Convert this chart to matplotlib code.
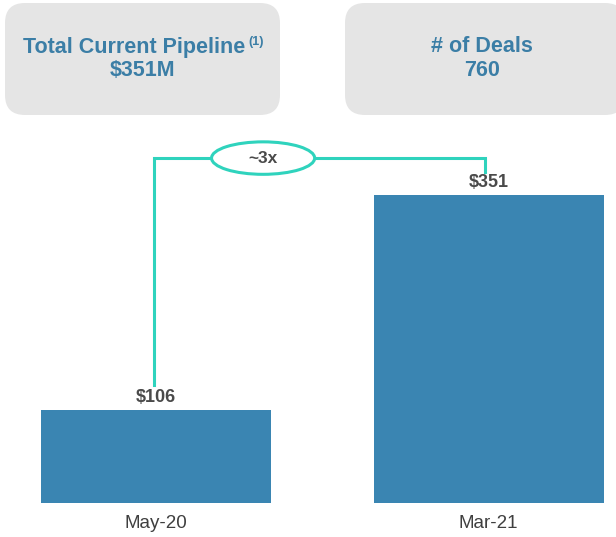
import matplotlib.pyplot as plt
from matplotlib.patches import FancyBboxPatch, Ellipse

plt.rcParams['font.family'] = ['Liberation Sans', 'DejaVu Sans']

# data
categories = ['May-20', 'Mar-21']
pipeline = [106, 351]
value_labels = ['$106', '$351']
growth_label = '~3x'
box_titles = ['Total Current Pipeline', '# of Deals']
box_values = ['$351M', '760']

BAR_COLOR = '#3a85b2'
TEAL = '#2fd3bd'
BOX_COLOR = '#e5e5e5'
BOX_TEXT = '#3b7ea6'
GREY_TEXT = '#3f3f3f'

W, H = 616, 537
fig = plt.figure(figsize=(W / 100, H / 100), dpi=100)
fig.patch.set_facecolor('white')


def fx(px):
    return px / W


def fy(py):
    return 1 - py / H


# header boxes (pixel layout)
for x0, x1 in [(5, 280), (345, 625)]:
    box = FancyBboxPatch((fx(x0 + 20), fy(115 - 20)), fx(x1 - x0 - 40), (112 - 40) / H,
                         boxstyle='round,pad=0,rounding_size=0.037',
                         transform=fig.transFigure, facecolor=BOX_COLOR,
                         edgecolor='none', mutation_aspect=W / H)
    box.set_boxstyle('round', pad=20 / W, rounding_size=20 / W)
    fig.patches.append(box)

fig.text(fx(134), fy(47), box_titles[0], ha='center', va='center',
         fontsize=15.5, fontweight='bold', color=BOX_TEXT)
fig.text(fx(248), fy(42), '(1)', ha='left', va='center',
         fontsize=9, fontweight='bold', color=BOX_TEXT)
fig.text(fx(143), fy(70), box_values[0], ha='center', va='center',
         fontsize=15.5, fontweight='bold', color=BOX_TEXT)
fig.text(fx(482), fy(47), box_titles[1], ha='center', va='center',
         fontsize=15.5, fontweight='bold', color=BOX_TEXT)
fig.text(fx(482), fy(70), box_values[1], ha='center', va='center',
         fontsize=15.5, fontweight='bold', color=BOX_TEXT)

# bar axes
ax = fig.add_axes([0, fy(503), 1, (503 - 130) / H])
x = [0, 1]
ax.bar(x, pipeline, width=0.692, color=BAR_COLOR)
ax.set_xlim(-0.469, 1.383)
ax.set_ylim(0, 425)
ax.axis('off')

for xi, v, lab in zip(x, pipeline, value_labels):
    ax.text(xi, v + 4, lab, ha='center', va='bottom', fontsize=13,
            fontweight='bold', color='#4a4a4a')

for xi, cat in zip(x, categories):
    fig.text(fx(156 + xi * 332.5), fy(524), cat, ha='center', va='center',
             fontsize=13.5, color=GREY_TEXT)

# growth bracket, split around the ellipse
top = pipeline[1] + 42
ex, ew = 0.322, 0.31
ax.plot([-0.006, -0.006, ex - ew / 2], [pipeline[0] + 28, top, top],
        color=TEAL, lw=2.2, solid_joinstyle='miter', zorder=3)
ax.plot([ex + ew / 2, 0.99, 0.99], [top, top, pipeline[1] + 26],
        color=TEAL, lw=2.2, solid_joinstyle='miter', zorder=3)
ell = Ellipse((ex, top), ew, 37, facecolor='white', edgecolor=TEAL,
              lw=2.2, zorder=4)
ax.add_patch(ell)
ax.text(ex, top, growth_label, ha='center', va='center', fontsize=12.5,
        fontweight='bold', color='#4a4a4a', zorder=5)

fig.savefig('out.png', dpi=100)
